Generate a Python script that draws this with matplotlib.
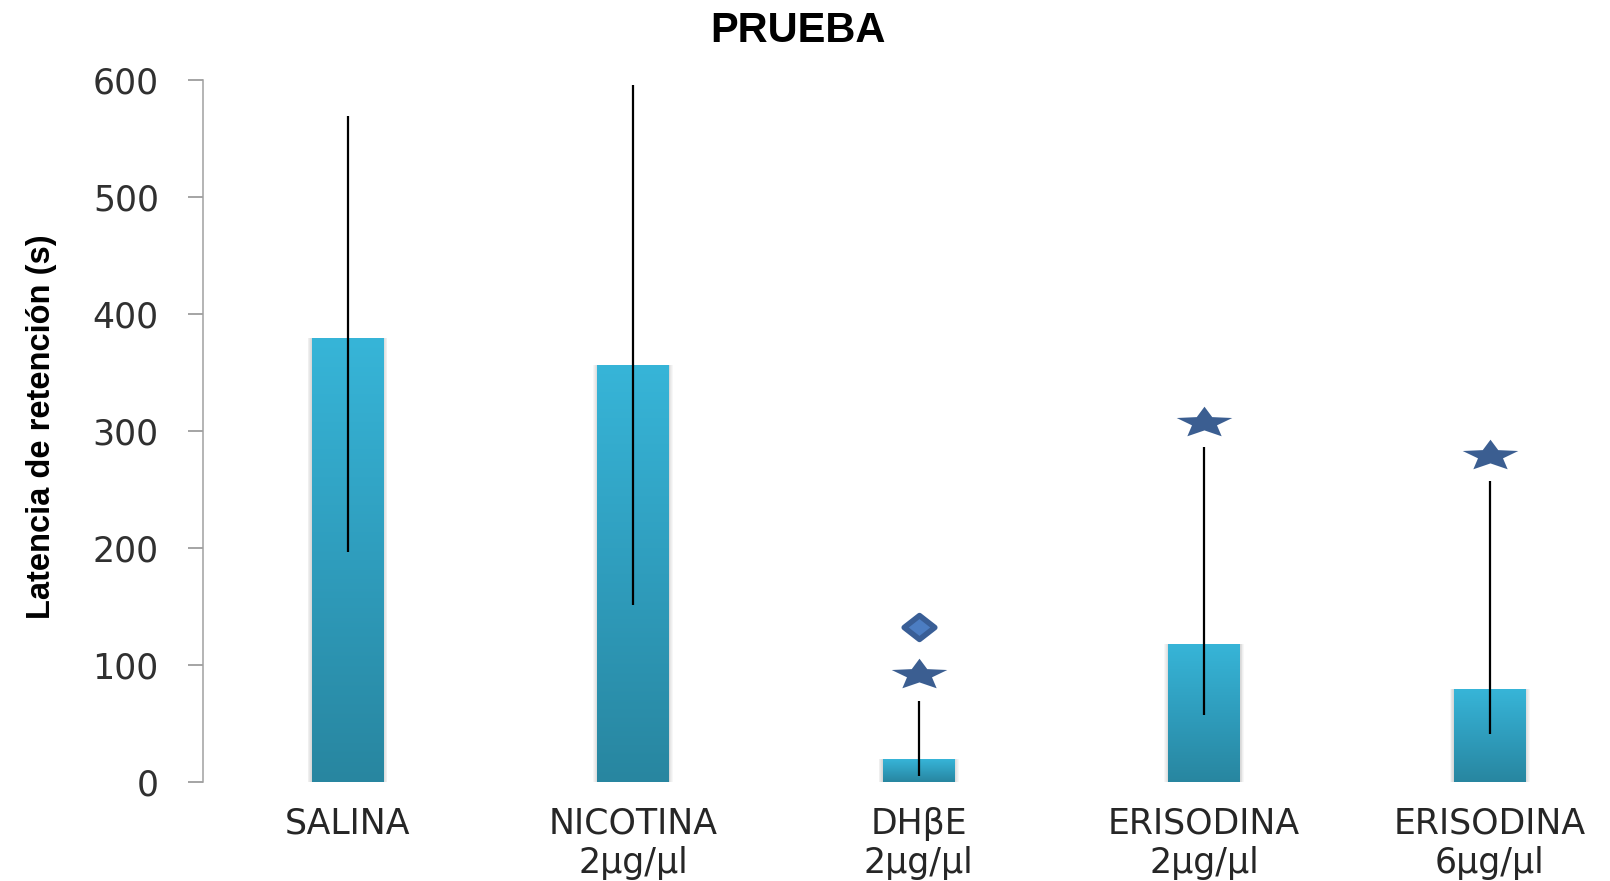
import numpy as np
import matplotlib
matplotlib.use("Agg")
import matplotlib.pyplot as plt
from matplotlib import font_manager
from matplotlib.path import Path
from matplotlib.colors import LinearSegmentedColormap

# datos
grupos = ["SALINA", "NICOTINA\n2µg/µl", "DHβE\n2µg/µl", "ERISODINA\n2µg/µl", "ERISODINA\n6µg/µl"]
medias = [379, 356, 19, 118, 79]
err_inf = [183, 205, 14, 61, 38]
err_sup = [190, 240, 50, 168, 178]

# marcas de significancia
estrella_x = [2, 3, 4]
estrella_y = [93, 308, 280]
rombo_x = [2]
rombo_y = [132]

yticks = [0, 100, 200, 300, 400, 500, 600]


def hay_fuente(nombre):
    try:
        font_manager.findfont(nombre, fallback_to_default=False)
        return True
    except Exception:
        return False


if hay_fuente("Liberation Sans Narrow"):
    fuente_ylabel, tam_ylabel = "Liberation Sans Narrow", 27.5
else:
    fuente_ylabel, tam_ylabel = "Liberation Sans", 23.5

fig = plt.figure(figsize=(16.1, 8.81), dpi=100)
ax = fig.add_axes([0.1261, 0.1127, 0.8868, 0.7965])

x = np.arange(len(grupos))
ancho = 0.25

# sombra suave alrededor de las barras
for k in range(1, 6):
    ax.bar(x, medias, width=ancho + k * 0.006, color="k", alpha=0.03, zorder=1, linewidth=0)

barras = ax.bar(x, medias, width=ancho, color="#30a0c0", linewidth=0, zorder=2)

# degradado vertical en cada barra
cmap = LinearSegmentedColormap.from_list("azul", ["#2886a0", "#2f9dbd", "#37b5d8"])
grad = np.linspace(0, 1, 256).reshape(-1, 1)
for r in barras:
    x0, y0 = r.get_x(), r.get_y()
    w, h = r.get_width(), r.get_height()
    im = ax.imshow(grad, extent=[x0, x0 + w, y0, y0 + h], origin="lower",
                   aspect="auto", cmap=cmap, zorder=2.5, interpolation="bicubic")
    im.set_clip_path(r)

ax.errorbar(x, medias, yerr=[err_inf, err_sup], fmt="none", ecolor="black",
            elinewidth=1.6, capsize=0, zorder=3)

# estrella achatada
ang_ext = np.deg2rad(90 + 72 * np.arange(5))
ang_int = np.deg2rad(90 + 36 + 72 * np.arange(5))
verts = []
for a, b in zip(ang_ext, ang_int):
    verts.append((np.cos(a), np.sin(a)))
    verts.append((0.45 * np.cos(b), 0.45 * np.sin(b)))
verts = np.array(verts)
verts[:, 1] *= 0.56
verts[:, 1] -= (verts[:, 1].max() + verts[:, 1].min()) / 2
verts = np.vstack([verts, verts[:1]])
estrella = Path(verts, closed=True)

rombo = Path([(0, 0.39), (0.5, 0), (0, -0.39), (-0.5, 0), (0, 0.39)], closed=True)

ax.plot(estrella_x, estrella_y, linestyle="none", marker=estrella, markersize=40,
        color="#3b5e91", markeredgewidth=0, zorder=4)
ax.plot(rombo_x, rombo_y, linestyle="none", marker=rombo, markersize=22,
        markerfacecolor="#4c7dc2", markeredgecolor="#395e96", markeredgewidth=4,
        zorder=4)

ax.set_xlim(-0.506, 4.494)
ax.set_ylim(0, 600)
ax.set_yticks(yticks)
ax.set_xticks(x)
ax.set_xticklabels(grupos, fontsize=25, color="#262626", linespacing=1.2)
ax.tick_params(axis="x", length=0, pad=18)
ax.tick_params(axis="y", length=10.8, width=1.1, color="#8c8c8c", pad=21,
               labelsize=25, labelcolor="#303030", direction="out")

for lado in ["top", "right", "bottom"]:
    ax.spines[lado].set_visible(False)
ax.spines["left"].set_color("#a0a0a0")
ax.spines["left"].set_linewidth(1.1)

fig.text(798 / 1610, 1 - 41.7 / 881, "PRUEBA", ha="center", va="baseline",
         fontsize=30, fontweight="bold", family="Liberation Sans", color="black")
fig.text(42 / 1610, 1 - 427 / 881, "Latencia de retención (s)", rotation=90,
         ha="center", va="center", fontsize=tam_ylabel, fontweight="bold",
         family=fuente_ylabel, color="black")

fig.savefig("out.png", dpi=100, facecolor="white")
